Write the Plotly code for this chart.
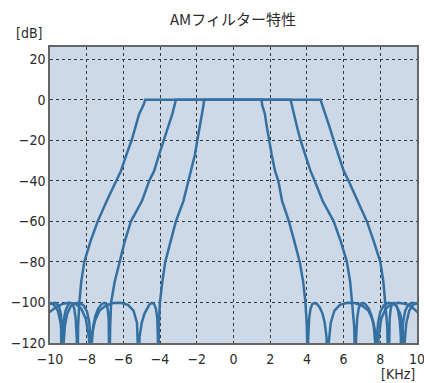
import plotly.graph_objects as go

# ---- data (frequency in kHz, level in dB) ----
inner_khz = [-10.2, -10.0, -9.7, -9.35, -9.0, -8.6, -8.3, -8.05, -7.87, -7.8,
             -7.8, -7.72, -7.55, -7.3, -6.95, -6.55, -6.15, -5.75, -5.45, -5.26, -5.22, -5.2,
             -5.2, -5.12, -5.0, -4.85, -4.7, -4.57, -4.45, -4.33, -4.23, -4.15, -4.12, -4.1,
             -4.07, -4.01, -3.88, -3.72, -3.43, -3.14, -2.73, -2.46, -2.29, -2.1, -1.97, -1.82, -1.70, -1.63, -1.60,
             1.53, 1.56, 1.63, 1.71, 1.81, 1.93, 2.08, 2.26, 2.44, 2.65, 3.02, 3.32, 3.61, 3.80, 3.92, 4.0, 4.05,
             4.05, 4.07, 4.12, 4.2, 4.3, 4.42, 4.55, 4.7, 4.85, 4.97, 5.07, 5.15,
             5.15, 5.19, 5.3, 5.5, 5.8, 6.2, 6.6, 7.0, 7.35, 7.6, 7.75, 7.85,
             7.85, 7.9, 8.05, 8.3, 8.6, 9.0, 9.4, 9.75, 10.0, 10.2]
inner_db = [-106, -104.5, -102.5, -100.8, -100.2, -100.8, -103, -108, -118, -140,
            -140, -116, -109, -104, -101.5, -100.3, -100.2, -101.2, -104, -110, -120, -140,
            -140, -117, -110, -105.5, -102.5, -100.8, -100.2, -100.7, -103, -108, -118, -140,
            -112, -100, -90, -80, -70, -60, -50, -40, -35, -27, -20, -13, -7, -2.5, 0,
            0, -2.5, -4.5, -7, -13, -20, -27, -35, -40, -50, -60, -70, -80, -90, -100, -112, -140,
            -140, -118, -108, -103, -100.7, -100.2, -100.8, -102.5, -105.5, -110, -117, -140,
            -140, -120, -110, -104, -101.2, -100.2, -100.3, -101.5, -104, -109, -116, -140,
            -140, -118, -108, -103, -100.8, -100.2, -100.8, -102.5, -104.5, -107]

middle_khz = [-10.2, -10.0, -9.8, -9.58, -9.42, -9.33, -9.28,
              -9.28, -9.25, -9.18, -9.06, -8.88, -8.68, -8.43, -8.18, -7.98, -7.86, -7.79, -7.75,
              -7.75, -7.72, -7.65, -7.52, -7.37, -7.2, -7.05, -6.94, -6.86, -6.8, -6.77,
              -6.72, -6.67, -6.48, -6.22, -5.93, -5.59, -4.99, -4.59, -4.32, -4.05, -3.78, -3.55, -3.33, -3.2, -3.14,
              3.11, 3.17, 3.29, 3.45, 3.65, 3.9, 4.19, 4.42, 4.86, 5.46, 5.85, 6.18, 6.36, 6.46, 6.58, 6.65,
              6.65, 6.68, 6.74, 6.82, 6.92, 7.05, 7.2, 7.37, 7.52, 7.65, 7.72, 7.75,
              7.75, 7.79, 7.88, 8.0, 8.2, 8.45, 8.7, 8.9, 9.08, 9.2, 9.27, 9.3,
              9.3, 9.33, 9.42, 9.58, 9.8, 10.0, 10.2]
middle_db = [-100, -100.3, -101, -104, -110, -119, -140,
             -140, -119, -111, -105.5, -102, -100.5, -100.2, -101.3, -104.5, -110, -119, -140,
             -140, -120, -112, -106.5, -103, -101, -100.2, -100.6, -103, -108, -140,
             -112, -100, -90, -80, -70, -60, -50, -40, -35, -27, -20, -13, -7, -2.5, 0,
             0, -2.5, -7, -13, -20, -27, -35, -40, -50, -60, -70, -80, -90, -100, -112, -140,
             -140, -118, -108, -103, -100.6, -100.2, -101, -103, -106.5, -112, -120, -140,
             -140, -119, -110, -104.5, -101.3, -100.2, -100.5, -102, -105.5, -111, -119, -140,
             -140, -119, -110, -104, -101, -100.3, -100]

outer_khz = [-10.2, -9.95, -9.72, -9.52, -9.4, -9.37,
             -9.37, -9.33, -9.26, -9.15, -9.02, -8.9, -8.78, -8.68, -8.6, -8.54, -8.5,
             -8.47, -8.4, -8.3, -8.13, -7.8, -7.40, -6.91, -6.4, -6.13, -5.83, -5.55, -5.33, -5.14, -4.9, -4.81,
             4.74, 4.84, 5.01, 5.22, 5.46, 5.72, 6.0, 6.27, 6.78, 7.27, 7.65, 8.0, 8.17, 8.27, 8.38, 8.45,
             8.45, 8.47, 8.51, 8.57, 8.65, 8.75, 8.86, 8.97, 9.06, 9.12, 9.15,
             9.15, 9.18, 9.25, 9.36, 9.52, 9.72, 9.95, 10.2]
outer_db = [-101.5, -100.5, -100.2, -101.5, -106, -140,
            -140, -117, -109, -104, -101.2, -100.2, -100.5, -103, -108, -118, -140,
            -112, -100, -90, -80, -70, -60, -50, -40, -35, -27, -20, -13, -7, -2.5, 0,
            0, -2.5, -7, -13, -20, -27, -35, -40, -50, -60, -70, -80, -90, -100, -112, -140,
            -140, -118, -108, -103, -100.5, -100.2, -101.2, -104, -109, -117, -140,
            -140, -118, -109, -104, -101.2, -100.2, -100.5, -101.5]

x_ticks = [-10, -8, -6, -4, -2, 0, 2, 4, 6, 8, 10]
y_ticks = [20, 0, -20, -40, -60, -80, -100, -120]
y_tick_text = ["20", "0", "\u221220", "\u221240", "\u221260", "\u221280", "\u2212100", "\u2212120"]
x_tick_text = ["\u221210", "\u22128", "\u22126", "\u22124", "\u22122", "0", "2", "4", "6", "8", "10"]

title_text = "AMフィルター特性"
y_unit = "[dB]"
x_unit = "[KHz]"

line_color = "#3470a2"
text_color = "#2b2b2b"
font_family = "Noto Sans CJK JP"
narrow_family = "Liberation Sans Narrow, DejaVu Sans Condensed, Noto Sans CJK JP"

fig = go.Figure()
for xs, ys in [(outer_khz, outer_db), (middle_khz, middle_db), (inner_khz, inner_db)]:
    fig.add_trace(go.Scatter(x=xs, y=ys, mode="lines",
                             line=dict(color=line_color, width=2.5),
                             hoverinfo="skip", showlegend=False))

fig.update_layout(
    width=424, height=383,
    margin=dict(l=50, r=7, t=47, b=40, autoexpand=False),
    paper_bgcolor="white",
    plot_bgcolor="#cdd9e6",
    font=dict(family=font_family, size=13, color=text_color),
    title=dict(text=title_text, x=0.5495, xanchor="center", y=0.948, yanchor="middle",
               font=dict(family=font_family, size=15, color=text_color)),
    showlegend=False,
)
axis_common = dict(showgrid=True, gridcolor="#3a3a3a", griddash="dot", gridwidth=1,
                   showline=True, linecolor="#666666", linewidth=1.5, mirror=True,
                   ticks="", zeroline=False,
                   tickfont=dict(family=narrow_family, size=14, color=text_color),
                   ticklabeloverflow="allow")
fig.update_xaxes(range=[-10, 10], tickvals=x_ticks, ticktext=x_tick_text,
                 ticklabelstandoff=2, **axis_common)
fig.update_yaxes(range=[-120, 26], tickvals=y_ticks, ticktext=y_tick_text,
                 **axis_common)

fig.add_annotation(text=y_unit, xref="paper", yref="paper", x=-0.057, y=1.047,
                   xanchor="center", yanchor="middle", showarrow=False,
                   font=dict(family=narrow_family, size=14, color=text_color))
fig.add_annotation(text=x_unit, xref="paper", yref="paper", x=1.0, y=-0.105,
                   xanchor="right", yanchor="middle", showarrow=False,
                   font=dict(family=narrow_family, size=14, color=text_color))

# remove the browser's default 8 px page margin so the figure fills the window
fig.write_html("out.html", config={"displayModeBar": False},
               post_script="document.body.style.margin='0';")
